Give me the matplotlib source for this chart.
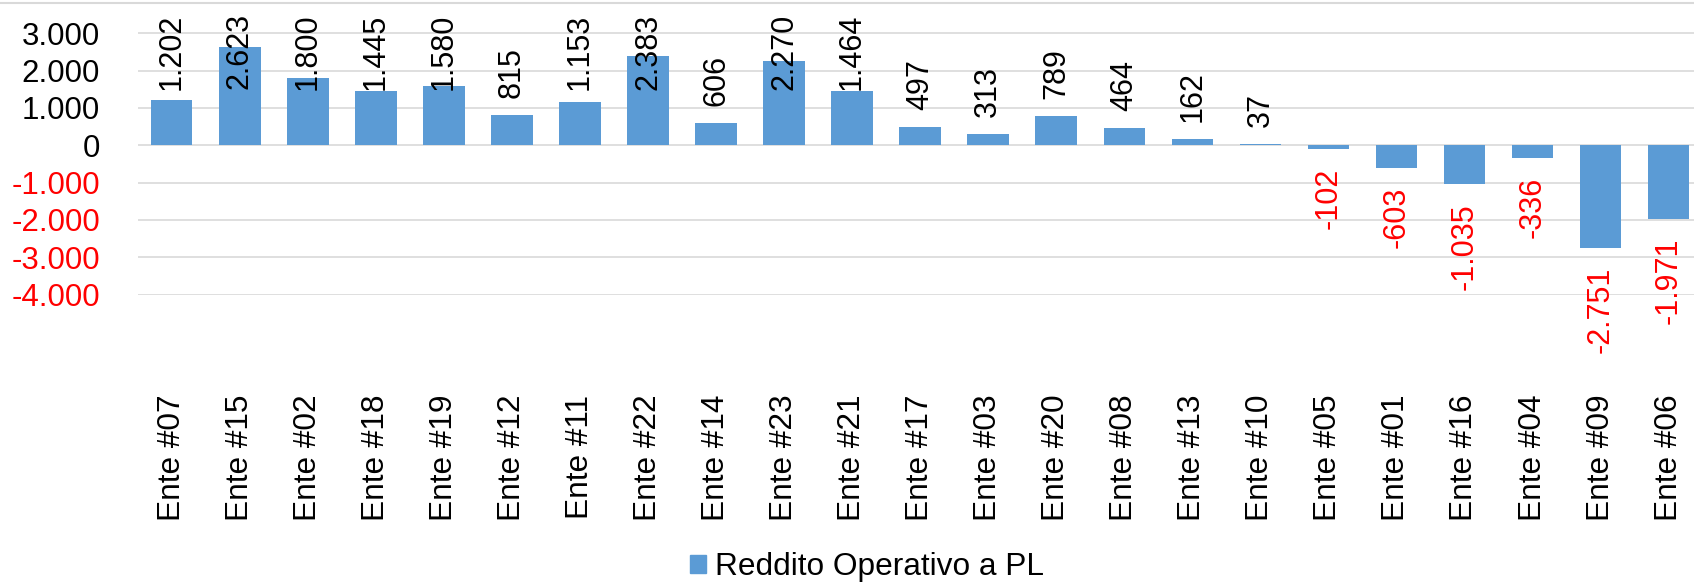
import numpy as np
import matplotlib
matplotlib.use("Agg")
import matplotlib.pyplot as plt
from matplotlib.lines import Line2D
from matplotlib.patches import Patch

plt.rcParams['font.family'] = ['Liberation Sans', 'DejaVu Sans']

enti = ["Ente #07", "Ente #15", "Ente #02", "Ente #18", "Ente #19", "Ente #12",
        "Ente #11", "Ente #22", "Ente #14", "Ente #23", "Ente #21", "Ente #17",
        "Ente #03", "Ente #20", "Ente #08", "Ente #13", "Ente #10", "Ente #05",
        "Ente #01", "Ente #16", "Ente #04", "Ente #09", "Ente #06"]
valori = [1202, 2623, 1800, 1445, 1580, 815, 1153, 2383, 606, 2270, 1464, 497,
          313, 789, 464, 162, 37, -102, -603, -1035, -336, -2751, -1971]
yticks = [-4000, -3000, -2000, -1000, 0, 1000, 2000, 3000]
serie = "Reddito Operativo a PL"

blu = "#5B9BD5"
grigio = "#D9D9D9"
rosso = "#FF0000"


def fmt(v):
    s = "{:,}".format(abs(int(v))).replace(",", ".")
    return "-" + s if v < 0 else s


W, H = 1694, 583
fig = plt.figure(figsize=(W / 100, H / 100), dpi=100)

# px positions measured on the reference
y0_px = 145.3          # zero line from top
px_per_k = 37.33       # pixels per 1000
ymin, ymax = -4000, 3900
top_px = y0_px - ymax / 1000 * px_per_k
bot_px = y0_px - ymin / 1000 * px_per_k
left_px, step_px = 137.7, 68.04
ax = fig.add_axes([left_px / W, 1 - bot_px / H, 23 * step_px / W, (bot_px - top_px) / H])

x = np.arange(len(enti))
ax.bar(x, valori, width=0.61, color=blu, zorder=3, label=serie)
ax.set_xlim(-0.5, len(enti) - 0.5)
ax.set_ylim(ymin, ymax)

ax.set_yticks(yticks)
ax.set_yticklabels([fmt(v) for v in yticks], fontsize=22.5)
for t, v in zip(ax.get_yticklabels(), yticks):
    t.set_color(rosso if v < 0 else "black")
ax.yaxis.grid(True, color=grigio, linewidth=1.2, zorder=0)
ax.tick_params(axis='y', length=0, pad=27)

ax.set_xticks(x)
ax.set_xticklabels(enti, rotation=90, fontsize=22.8)
ax.tick_params(axis='x', length=0, pad=72)
for s in ax.spines.values():
    s.set_visible(False)

# data labels
gap_pos = 455
gap_neg = 510
limite = 3536  # labels are pushed inside the chart area at the top
testi = []
for xi, v in zip(x, valori):
    if v >= 0:
        t = ax.text(xi, v + gap_pos, fmt(v), rotation=90, ha='center', va='bottom',
                    fontsize=22, color='black', zorder=4)
    else:
        t = ax.text(xi, v - gap_neg, fmt(v), rotation=90, ha='center', va='top',
                    fontsize=22, color=rosso, zorder=4)
    testi.append((t, v))

fig.canvas.draw()
lim_disp = ax.transData.transform((0, limite))[1]
for t, v in testi:
    if v >= 0:
        bb = t.get_window_extent()
        if bb.y1 > lim_disp:
            t.set_y(limite)
            t.set_va('top')

# chart border visible at the top of the crop
fig.add_artist(Line2D([0, 1], [1 - 3 / H, 1 - 3 / H], color=grigio, linewidth=1.5))

fig.legend(handles=[Patch(color=blu, label=serie)], loc='center',
           bbox_to_anchor=(0.512, 1 - 567 / H), frameon=False, fontsize=22.8,
           handlelength=0.5, handleheight=0.5, handletextpad=0.28)

fig.savefig("out.png", dpi=100)
